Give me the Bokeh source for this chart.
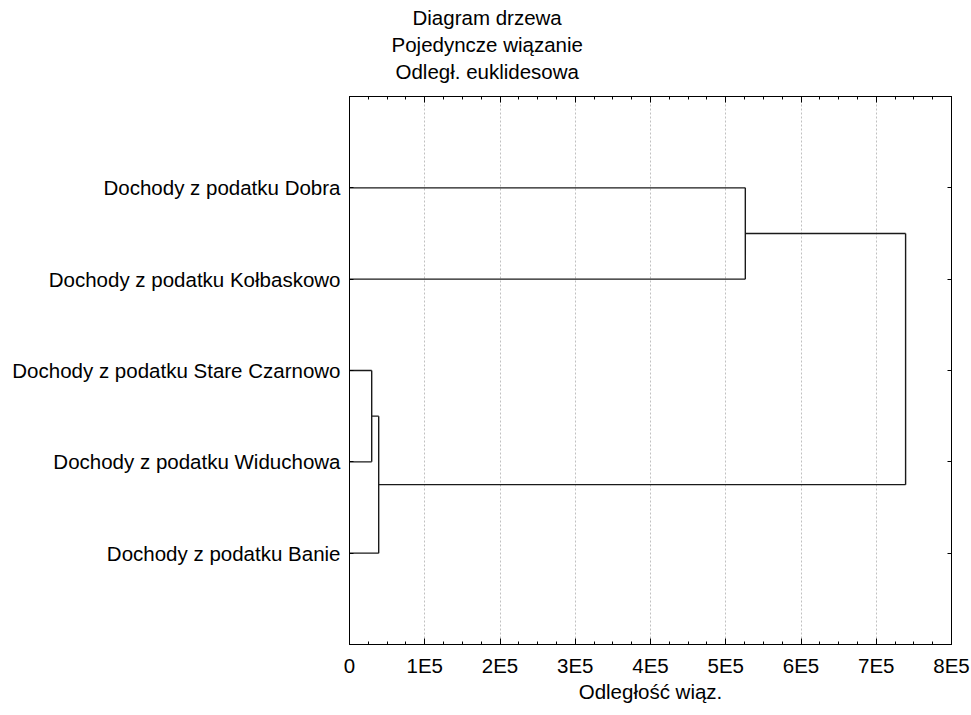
from bokeh.plotting import figure
from bokeh.models import Range1d, FixedTicker, SingleIntervalTicker, LinearAxis, Title
from bokeh.embed import file_html
from bokeh.resources import INLINE

# ---------------- data ----------------
leaves = [
    "Dochody z podatku Dobra",
    "Dochody z podatku Kołbaskowo",
    "Dochody z podatku Stare Czarnowo",
    "Dochody z podatku Widuchowa",
    "Dochody z podatku Banie",
]
# linkage (scipy style: leaves 0..4, merges numbered 5,6,7,8)
merge_a = [2, 5, 0, 7]
merge_b = [3, 4, 1, 6]
merge_dist = [29500, 38800, 526000, 739000]

x_ticks = [0, 100000, 200000, 300000, 400000, 500000, 600000, 700000, 800000]
x_tick_labels = ["0", "1E5", "2E5", "3E5", "4E5", "5E5", "6E5", "7E5", "8E5"]

title_lines = ["Diagram drzewa", "Pojedyncze wiązanie", "Odległ. euklidesowa"]
x_label = "Odległość wiąz."

# ---------------- tree geometry ----------------
n = len(leaves)
node_y = {i: float(i + 1) for i in range(n)}
node_h = {i: 0.0 for i in range(n)}
xs, ys = [], []
for k, (a, b, d) in enumerate(zip(merge_a, merge_b, merge_dist)):
    nid = n + k
    for c in (a, b):
        xs.append([node_h[c], d])
        ys.append([node_y[c], node_y[c]])
    xs.append([d, d])
    ys.append([node_y[a], node_y[b]])
    node_y[nid] = (node_y[a] + node_y[b]) / 2
    node_h[nid] = d

FONT = "Liberation Sans"
FS = "20.5px"
TXT = "black"

p = figure(
    width=971, height=715,
    x_range=Range1d(x_ticks[0], x_ticks[-1]),
    y_range=Range1d(n + 1, 0),
    output_backend="svg", toolbar_location=None,
    min_border_left=349, min_border_right=20,
    min_border_top=96, min_border_bottom=71,
    x_axis_location="below",
)
p.outline_line_color = "black"
p.background_fill_color = "white"
p.border_fill_color = "white"

p.multi_line(xs, ys, line_color="#1a1a1a", line_width=1.4)

tick_y = list(range(1, n + 1))

# bottom axis
xa = p.xaxis[0]
xa.ticker = SingleIntervalTicker(interval=100000, num_minor_ticks=4)
xa.major_label_overrides = {t: l for t, l in zip(x_ticks, x_tick_labels)}
xa.axis_label = x_label
xa.axis_label_text_font = FONT
xa.axis_label_text_font_size = FS
xa.axis_label_text_font_style = "normal"
xa.axis_label_text_color = TXT
xa.axis_label_standoff = 0
xa.major_label_text_font = FONT
xa.major_label_text_font_size = FS
xa.major_label_text_color = TXT
xa.major_label_standoff = 9
xa.major_tick_in = 6
xa.major_tick_out = 0
xa.minor_tick_in = 3
xa.minor_tick_out = 0
xa.axis_line_color = "black"
xa.major_tick_line_color = "black"
xa.minor_tick_line_color = "black"

# left axis
ya = p.yaxis[0]
ya.ticker = FixedTicker(ticks=tick_y)
ya.major_label_overrides = {i + 1: l for i, l in enumerate(leaves)}
ya.major_label_text_font = FONT
ya.major_label_text_font_size = FS
ya.major_label_text_color = TXT
ya.major_label_standoff = 9
ya.major_tick_in = 4
ya.major_tick_out = 0
ya.minor_tick_line_color = None
ya.axis_line_color = "black"
ya.major_tick_line_color = "black"

# top axis (ticks only)
top = LinearAxis(ticker=SingleIntervalTicker(interval=100000, num_minor_ticks=4))
top.major_label_overrides = {t: "" for t in x_ticks}
top.major_label_standoff = 0
top.major_tick_in = 6
top.major_tick_out = 0
top.minor_tick_in = 3
top.minor_tick_out = 0
top.axis_line_color = "black"
top.major_tick_line_color = "black"
top.minor_tick_line_color = "black"
p.add_layout(top, "above")

# right axis (ticks only)
right = LinearAxis(ticker=FixedTicker(ticks=tick_y))
right.major_label_overrides = {t: "" for t in tick_y}
right.major_label_standoff = 0
right.major_tick_in = 4
right.major_tick_out = 0
right.minor_tick_line_color = None
right.axis_line_color = "black"
right.major_tick_line_color = "black"
p.add_layout(right, "right")

# grid
p.xgrid.ticker = FixedTicker(ticks=x_ticks)
p.xgrid.grid_line_color = "#c0c0c0"
p.xgrid.grid_line_dash = "2 2"
p.ygrid.grid_line_color = None

# spacer between frame and title block
p.add_layout(Title(text=" ", text_font_size="10px", standoff=0), "above")

# titles (stacked upwards: first added is closest to the frame)
offsets = [63, 42, 46]
for txt, off in reversed(list(zip(title_lines, offsets))):
    t = Title(text=txt, align="left", offset=off, text_font=FONT,
              text_font_size=FS, text_font_style="normal",
              text_color=TXT, standoff=2)
    p.add_layout(t, "above")

open("out.html", "w").write(file_html(p, INLINE))
